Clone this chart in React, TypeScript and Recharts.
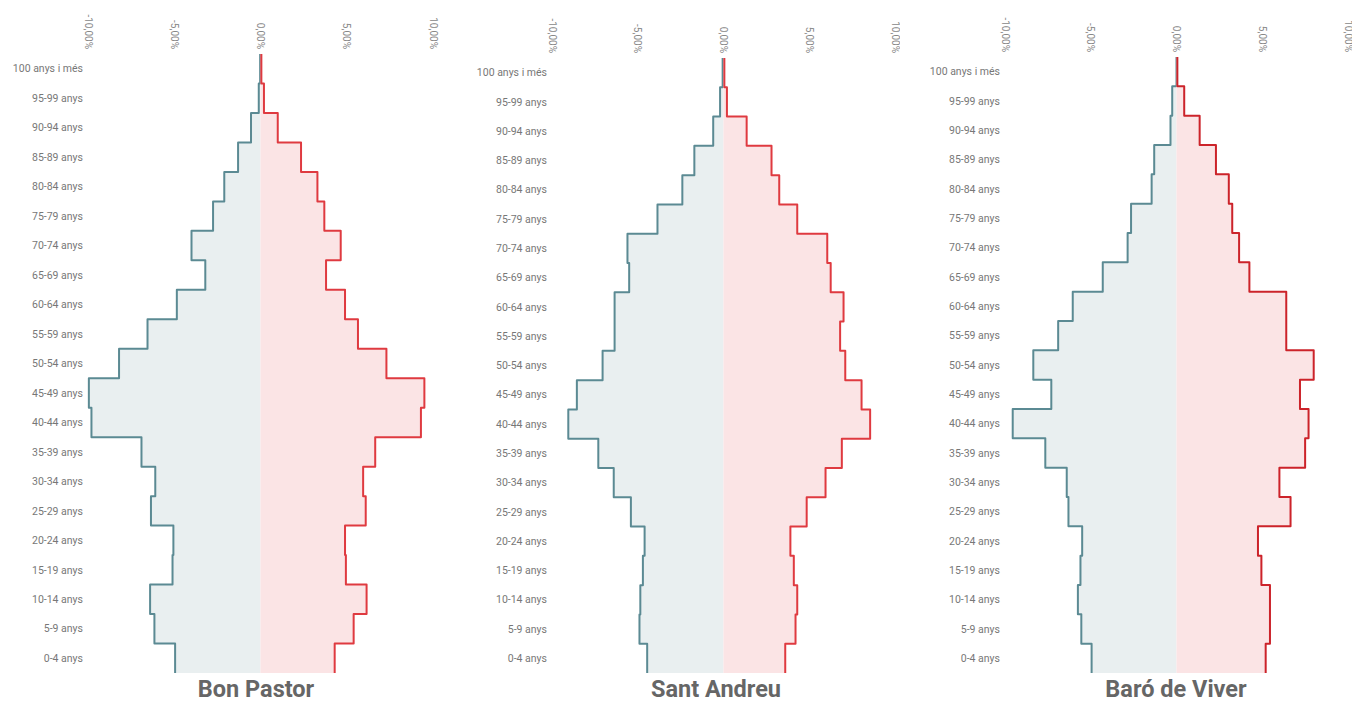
import { ComposedChart, Area, XAxis, YAxis } from 'recharts';

const AGES = [
  '100 anys i més', '95-99 anys', '90-94 anys', '85-89 anys', '80-84 anys', '75-79 anys',
  '70-74 anys', '65-69 anys', '60-64 anys', '55-59 anys', '50-54 anys', '45-49 anys',
  '40-44 anys', '35-39 anys', '30-34 anys', '25-29 anys', '20-24 anys', '15-19 anys',
  '10-14 anys', '5-9 anys', '0-4 anys',
];

const X_TICKS = [-10, -5, 0, 5, 10];

// % of population, same order as AGES (men shown to the left)
const BON_PASTOR_HOMES = [0.02, 0.1, 0.55, 1.3, 2.1, 2.75, 4.0, 3.2, 4.85, 6.55, 8.2, 9.95, 9.8, 6.9, 6.1, 6.35, 5.05, 5.1, 6.4, 6.15, 4.95];
const BON_PASTOR_DONES = [0.05, 0.2, 1.0, 2.35, 3.3, 3.7, 4.65, 3.8, 4.9, 5.65, 7.3, 9.5, 9.3, 6.65, 5.95, 6.1, 4.9, 4.95, 6.15, 5.4, 4.3];

const SANT_ANDREU_HOMES = [0.05, 0.2, 0.6, 1.7, 2.4, 3.85, 5.6, 5.5, 6.35, 6.35, 7.05, 8.55, 9.05, 7.3, 6.4, 5.4, 4.6, 4.7, 4.85, 4.9, 4.45];
const SANT_ANDREU_DONES = [0.05, 0.2, 1.35, 2.8, 3.25, 4.3, 6.05, 6.25, 7.0, 6.8, 7.1, 8.05, 8.55, 6.9, 5.95, 4.85, 3.9, 4.1, 4.3, 4.2, 3.6];

const BARO_VIVER_HOMES = [0.0, 0.25, 0.35, 1.3, 1.45, 2.65, 2.85, 4.3, 6.05, 6.9, 8.35, 7.3, 9.55, 7.65, 6.4, 6.3, 5.5, 5.6, 5.75, 5.55, 4.95];
const BARO_VIVER_DONES = [0.05, 0.45, 1.35, 2.3, 3.05, 3.25, 3.65, 4.25, 6.4, 6.4, 8.0, 7.2, 7.7, 7.5, 6.0, 6.65, 4.75, 4.95, 5.45, 5.45, 5.2];

const buildRows = (homes: number[], dones: number[]) =>
  AGES.map((age, i) => ({ age, homes: -homes[i], dones: dones[i] }));

// step curve that switches value halfway between two categories (vertical layout)
const stepY = (context: any) => {
  let pts: number[][] = [];
  let line = NaN;
  return {
    areaStart() { line = 0; },
    areaEnd() { line = NaN; },
    lineStart() { pts = []; },
    lineEnd() {
      const n = pts.length;
      if (n > 0) {
        const first = n > 1 ? (pts[1][1] - pts[0][1]) / 2 : 0;
        const last = n > 1 ? (pts[n - 1][1] - pts[n - 2][1]) / 2 : 0;
        const out: number[][] = [[pts[0][0], pts[0][1] - first]];
        for (let i = 1; i < n; i++) {
          const mid = (pts[i - 1][1] + pts[i][1]) / 2;
          out.push([pts[i - 1][0], mid], [pts[i][0], mid]);
        }
        out.push([pts[n - 1][0], pts[n - 1][1] + last]);
        out.forEach(([x, y], i) => {
          if (i === 0 && !line) context.moveTo(x, y);
          else context.lineTo(x, y);
        });
      }
      if (line === 1) context.closePath();
      if (line >= 0) line = 1 - line;
    },
    point(x: number, y: number) { pts.push([+x, +y]); },
  };
};

const FONT = 'Roboto, "Noto Sans", sans-serif';

const PercentTick = ({ x, y, payload }: any) => (
  <text
    x={x}
    y={y}
    dy="0.35em"
    transform={`rotate(90, ${x}, ${y})`}
    textAnchor="end"
    fontSize={10}
    fontFamily={FONT}
    fill="#888"
  >
    {`${payload.value.toFixed(2).replace('.', ',')}%`}
  </text>
);

const AgeTick = ({ x, y, payload }: any) => (
  <text x={x} y={y} dy="0.35em" textAnchor="end" fontSize={10.5} fontFamily={FONT} fill="#777">
    {payload.value}
  </text>
);

interface PyramidProps {
  title: string;
  homes: number[];
  dones: number[];
  left: number;
  width: number;
  axisWidth: number;
  top: number;
  rightMargin: number;
  titleCenter: number;
  womenStroke: string;
}

function Pyramid({ title, homes, dones, left, width, axisWidth, top, rightMargin, titleCenter, womenStroke }: PyramidProps) {
  const data = buildRows(homes, dones);
  const plotHeight = 673 - top;
  const half = plotHeight / AGES.length / 2;
  return (
    <div style={{ position: 'absolute', left, top: 0, width, height: 702 }}>
      <ComposedChart
        width={width}
        height={673}
        data={data}
        layout="vertical"
        margin={{ top: 0, right: rightMargin, bottom: 0, left: 0 }}
      >
        <XAxis
          type="number"
          orientation="top"
          domain={[-10, 10]}
          ticks={X_TICKS}
          height={top}
          axisLine={false}
          tickLine={false}
          tickSize={3}
          tickMargin={2}
          interval={0}
          tick={<PercentTick />}
        />
        <YAxis
          type="category"
          dataKey="age"
          width={axisWidth}
          padding={{ top: half, bottom: half }}
          axisLine={false}
          tickLine={false}
          tickSize={3}
          tickMargin={2}
          interval={0}
          tick={<AgeTick />}
        />
        <Area
          dataKey="homes"
          type={stepY as any}
          stroke="#5b8a93"
          strokeWidth={2}
          strokeLinejoin="round"
          fill="#e9eff0"
          fillOpacity={1}
          dot={false}
          activeDot={false}
          isAnimationActive={false}
        />
        <Area
          dataKey="dones"
          type={stepY as any}
          stroke={womenStroke}
          strokeWidth={2}
          strokeLinejoin="round"
          fill="#fbe4e5"
          fillOpacity={1}
          dot={false}
          activeDot={false}
          isAnimationActive={false}
        />
      </ComposedChart>
      <div
        style={{
          position: 'absolute',
          left: titleCenter - left - 150,
          width: 300,
          top: 677,
          textAlign: 'center',
          fontFamily: FONT,
          fontWeight: 700,
          fontSize: 23.5,
          lineHeight: '25px',
          color: '#666',
        }}
      >
        {title}
      </div>
    </div>
  );
}

export default function App() {
  return (
    <div style={{ position: 'absolute', left: 0, top: 0, width: 1352, height: 702, background: '#fff', overflow: 'hidden' }}>
      <Pyramid title="Bon Pastor" homes={BON_PASTOR_HOMES} dones={BON_PASTOR_DONES}
        left={0} width={440} axisWidth={88} top={54} rightMargin={7} titleCenter={256} womenStroke="#df3a40" />
      <Pyramid title="Sant Andreu" homes={SANT_ANDREU_HOMES} dones={SANT_ANDREU_DONES}
        left={460} width={440} axisWidth={92} top={58} rightMargin={5} titleCenter={716} womenStroke="#df3a40" />
      <Pyramid title="Baró de Viver" homes={BARO_VIVER_HOMES} dones={BARO_VIVER_DONES}
        left={920} width={432} axisWidth={85} top={57} rightMargin={4} titleCenter={1176} womenStroke="#cc232a" />
    </div>
  );
}
